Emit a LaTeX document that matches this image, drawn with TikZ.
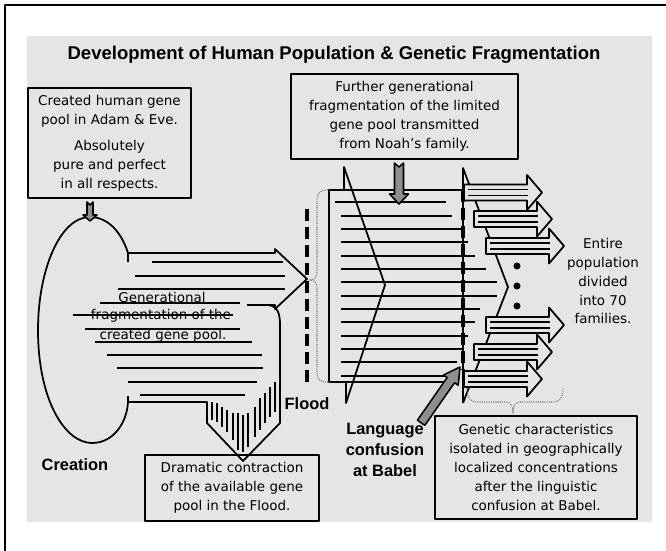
\documentclass[tikz,border=0pt]{standalone}
\usepackage{fontspec}
\setmainfont{DejaVu Sans}
\newfontfamily\headfont{Liberation Sans}
\newcommand{\comicfont}{\fontsize{11.5}{16.2}\selectfont}
\newcommand{\boldlabel}{\headfont\bfseries\fontsize{14}{17.9}\selectfont}
\definecolor{bggray}{HTML}{E5E5E5}
\definecolor{arrowgray}{HTML}{8E8E8E}
\tikzset{
  outline/.style={line width=1.5pt},
  row/.style={line width=1.3pt},
  hatch/.style={line width=1pt},
  divider/.style={line width=3.4pt, dash pattern=on 10.2pt off 5.1pt},
  brace/.style={black!55, line width=0.9pt, densely dotted},
  textbox/.style={draw, line width=1.7pt, align=center, font=\comicfont, inner sep=0pt},
  labeltext/.style={font=\boldlabel, align=center, inner sep=0pt},
  grayarrow/.style={fill=arrowgray, draw, line width=1.3pt},
  famarrow/.style={fill=bggray, draw, line width=1.5pt}
}
\begin{document}
\begin{tikzpicture}[x=0.03cm, y=-0.03cm, line join=round]
\useasboundingbox (0,0) rectangle (666,550);
% frame and background
\draw[line width=1.7pt] (5,556) -- (5,5) -- (670,5);
\fill[bggray] (27,36) rectangle (652,522);
\node[font={\headfont\bfseries\fontsize{15.8}{19}\selectfont}] (title) at (334,55)
  {Development of Human Population \& Genetic Fragmentation};

% creation blob and the band leaving it
\coordinate (edentop) at (90,217);
\draw[outline] (128,253) .. controls (120,228) and (105,217) .. (edentop)
  .. controls (60,217) and (38,270) .. (38,330)
  .. controls (38,400) and (65,443) .. (92,443)
  .. controls (115,443) and (128,420) .. (128,400);
\draw[outline] (128,262) -- (128,253) -- (275,253) -- (275,249) -- (307,279)
  -- (275,309) -- (275,305) -- (247,305);
% contraction in the flood
\draw[outline] (268,305) .. controls (278,306) and (280,314) .. (280,325) -- (280,423)
  -- (243,461) -- (207,423) -- (207,402) -- (128,402) -- (128,396);
\foreach \y/\a/\b in {262/152/283, 276/135/285, 289/118/285, 303/100/240, 315/73/233,
    329/85/240, 342/95/252, 355/107/262, 368/117/263, 382/128/257, 395/140/245}
  \draw[row] (\a,\y) -- (\b,\y);
\foreach \x/\a/\b in {212/402/420, 217/403/422, 222/407/427, 227/410/432, 233/413/440,
    238/413/450, 243/415/452, 248/413/447, 255/407/437, 260/398/430, 265/393/423,
    270/387/417, 275/382/412}
  \draw[hatch] (\x,\a) -- (\x,\b);
\node[font=\comicfont, anchor=base, inner sep=0pt] (gen1) at (162,302) {Generational};
\node[font=\comicfont, anchor=base, inner sep=0pt] (gen2) at (161,319) {fragmentation of the};
\node[font=\comicfont, anchor=base, inner sep=0pt] (gen3) at (163,339) {created gene pool.};

% Noah's family block
\draw[outline] (463,190) -- (329,190) -- (329,382) -- (452,382);
\draw[outline] (344,190) -- (344,167) -- (385,285) -- (346,403) -- (346,382);
\draw[row] (335,202) -- (446,202);
\foreach \y/\b in {216/452, 229/463, 242/468, 256/475, 269/486, 282/497, 296/497,
    309/480, 322/475, 336/468, 349/463, 362/457, 376/447}
  \draw[row] (341,\y) -- (\b,\y);
\draw[outline] (463,403) -- (463,168) -- (508,287) -- (463,403);

% braces
\draw[brace] (328,190) .. controls (318,190) and (317,194) .. (317,202) -- (317,272)
  .. controls (317,278) and (314,280) .. (309,280) .. controls (314,280) and (317,282) .. (317,288)
  -- (317,372) .. controls (317,380) and (320,382) .. (328,382);
\draw[brace] (467,388) .. controls (467,398) and (470,402) .. (478,402) -- (506,402)
  .. controls (511,402) and (513,406) .. (513,413) .. controls (513,406) and (515,402) .. (520,402)
  -- (552,402) .. controls (560,402) and (563,398) .. (563,388);

% flood and babel
\draw[divider] (307,209) -- (307,388);
\draw[divider] (463,190) -- (463,370);

% seventy families
\foreach \x/\y in {464/192.5, 474/219, 486/246, 486/325, 474/352, 464/379} {
  \filldraw[famarrow] (\x,\y-8) -- (\x+63,\y-8) -- (\x+63,\y-17.5) -- (\x+78,\y)
    -- (\x+63,\y+17.5) -- (\x+63,\y+8) -- (\x,\y+8) -- cycle;
  \draw[row] (\x+4,\y-3) -- (\x+64,\y-3);
  \draw[row] (\x+4,\y+3) -- (\x+64,\y+3);
}
\foreach \y in {266,286,306}
  \fill (517,\y) circle[radius=3pt];

% boxes
\node[textbox, minimum width=163*0.03cm, minimum height=110*0.03cm] (adam) at (109.5,143)
  {Created human gene\\pool in Adam \& Eve.\\[6pt]Absolutely\\pure and perfect\\in all respects.};
\node[textbox, minimum width=227*0.03cm, minimum height=85*0.03cm] (noah) at (404.5,116.5)
  {Further generational\\fragmentation of the limited\\gene pool transmitted\\from Noah’s family.};
\node[textbox, minimum width=174*0.03cm, minimum height=66*0.03cm] (contraction) at (232,488)
  {Dramatic contraction\\of the available gene\\pool in the Flood.};
\node[textbox, minimum width=202*0.03cm, minimum height=103*0.03cm] (isolated) at (536,467.5)
  {Genetic characteristics\\isolated in geographically\\localized concentrations\\after the linguistic\\confusion at Babel.};
\node[font=\comicfont, align=center] (families) at (603,281)
  {Entire\\population\\divided\\into 70\\families.};

% labels
\node[labeltext] (creation) at (75,465) {Creation};
\node[labeltext] (flood) at (307,404) {Flood};
\node[labeltext] (babel) at (385,450) {Language\\confusion\\at Babel};

% gray arrows
\coordinate (noahin) at (399,203);
\coordinate (babeltip) at (460,367);
\begin{scope}[shift={(adam.south -| edentop)}]
  \filldraw[grayarrow] (-3,3) -- (0,6) -- (3,3) -- (3,16) -- (7,16) -- (0,22) -- (-7,16) -- (-3,16) -- cycle;
\end{scope}
\begin{scope}[shift={(noah.south -| noahin)}]
  \filldraw[grayarrow] (-4.5,3) -- (0,7) -- (4.5,3) -- (4.5,34) -- (9.5,34) -- (0,44) -- (-9.5,34) -- (-4.5,34) -- cycle;
\end{scope}
\begin{scope}[shift={(babeltip)}, rotate=55.1]
  \filldraw[grayarrow] (-68,-4.5) -- (-16,-4.5) -- (-16,-9) -- (0,0) -- (-16,9) -- (-16,4.5) -- (-68,4.5) -- cycle;
\end{scope}
\end{tikzpicture}
\end{document}
